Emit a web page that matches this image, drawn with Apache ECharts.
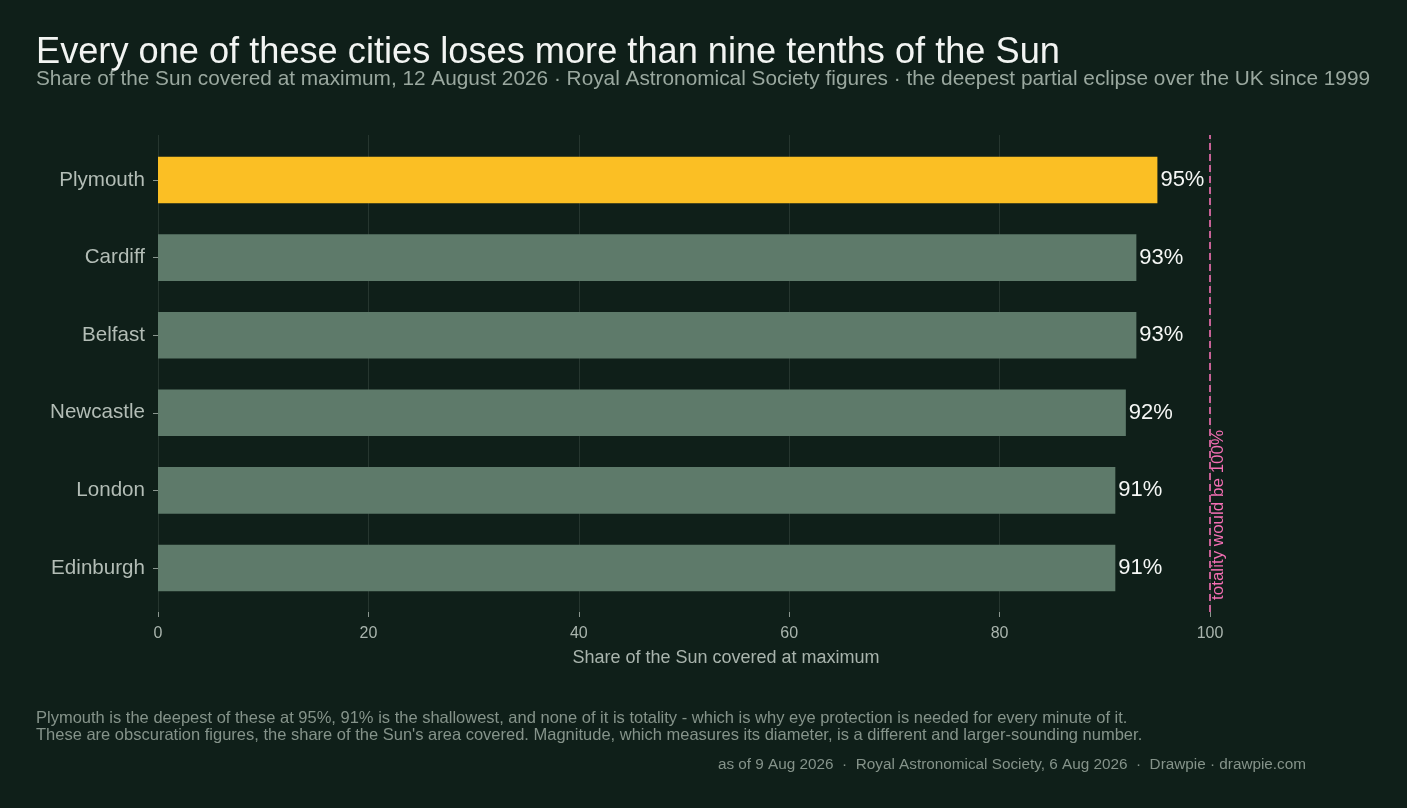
<!DOCTYPE html>
<html>
<head>
<meta charset="utf-8">
<script src="https://cdn.jsdelivr.net/npm/echarts@6/dist/echarts.min.js"></script>
<style>
  html, body { margin: 0; padding: 0; background: #0f1f19; }
  #chart { width: 1407px; height: 808px; }
</style>
</head>
<body>
<div id="chart"></div>
<script>
var cities = ['Plymouth', 'Cardiff', 'Belfast', 'Newcastle', 'London', 'Edinburgh'];
var covered = [95, 93, 93, 92, 91, 91];
var highlight = 'Plymouth';
var totality = 100;
var xTicks = [0, 20, 40, 60, 80, 100];

var font = '"Liberation Sans", Arial, sans-serif';
var myChart = echarts.init(document.getElementById('chart'));

var barData = cities.map(function (c, i) {
    return {
        value: covered[i],
        itemStyle: { color: c === highlight ? '#fbbf24' : '#5e7a6a' }
    };
});

option = {
    backgroundColor: '#0f1f19',
    textStyle: { fontFamily: font },
    title: [{
        text: 'Every one of these cities loses more than nine tenths of the Sun',
        left: 36, top: 35, padding: 0,
        textStyle: { color: '#f2f4f2', fontSize: 36.2, fontWeight: 'normal', fontFamily: font }
    }, {
        text: 'Share of the Sun covered at maximum, 12 August 2026 · Royal Astronomical Society figures · the deepest partial eclipse over the UK since 1999',
        left: 36, top: 69, padding: 0,
        textStyle: { color: '#9aa89f', fontSize: 20.8, fontWeight: 'normal', fontFamily: font }
    }, {
        text: 'Plymouth is the deepest of these at 95%, 91% is the shallowest, and none of it is totality - which is why eye protection is needed for every minute of it.\nThese are obscuration figures, the share of the Sun\'s area covered. Magnitude, which measures its diameter, is a different and larger-sounding number.',
        left: 36, top: 710, padding: 0,
        textStyle: { color: '#85938a', fontSize: 16.5, lineHeight: 17, fontWeight: 'normal', fontFamily: font }
    }, {
        text: 'as of 9 Aug 2026  ·  Royal Astronomical Society, 6 Aug 2026  ·  Drawpie · drawpie.com',
        right: 101, top: 757, padding: 0,
        textStyle: { color: '#85938a', fontSize: 15.3, fontWeight: 'normal', fontFamily: font }
    }],
    grid: [
        { left: 158, right: 197, top: 135, height: 477 },     // panel with gridlines
        { left: 158, right: 197, top: 141.2, height: 465.6 }  // bars
    ],
    xAxis: [{
        gridIndex: 0,
        type: 'value', min: 0, max: 100, interval: 20,
        offset: 2,
        axisLine: { show: false },
        axisTick: { show: true, length: 5, lineStyle: { color: '#8a968f' } },
        axisLabel: {
            color: '#a9b4ad', fontSize: 16, margin: 12,
            formatter: function (v) { return xTicks.indexOf(v) >= 0 ? String(v) : ''; }
        },
        splitLine: { show: true, lineStyle: { color: '#26362f', width: 1 } },
        name: 'Share of the Sun covered at maximum',
        nameLocation: 'middle', nameGap: 35,
        nameTextStyle: { color: '#a9b4ad', fontSize: 18, padding: [0, 0, 0, 84] }
    }, {
        gridIndex: 1,
        type: 'value', min: 0, max: 100,
        show: false
    }],
    yAxis: [{
        gridIndex: 0,
        type: 'value', min: 0, max: 1,
        show: false
    }, {
        gridIndex: 1,
        type: 'category', data: cities, inverse: true,
        axisLine: { show: false },
        axisTick: { show: true, alignWithLabel: true, length: 5, lineStyle: { color: '#8a968f' } },
        axisLabel: { color: '#b3bdb6', fontSize: 20.6, margin: 13, padding: [3, 0, 0, 0] },
        splitLine: { show: false }
    }],
    series: [{
        type: 'scatter',
        xAxisIndex: 0, yAxisIndex: 0,
        data: [],
        silent: true,
        markLine: {
            symbol: 'none',
            silent: true,
            lineStyle: { color: '#f46fb4', type: [7, 4], width: 1.6 },
            label: {
                show: true,
                formatter: 'totality would be 100%',
                position: 'insideStartBottom',
                color: '#f46fb4', fontSize: 17, distance: [12, 0]
            },
            data: [{ xAxis: totality }]
        }
    }, {
        type: 'bar',
        xAxisIndex: 1, yAxisIndex: 1,
        data: barData,
        barCategoryGap: '40%',
        label: {
            show: true, position: 'right', distance: 3,
            color: '#f5f7f5', fontSize: 22,
            formatter: function (p) { return p.value + '%'; }
        }
    }]
};
myChart.setOption(option);
</script>
</body>
</html>
